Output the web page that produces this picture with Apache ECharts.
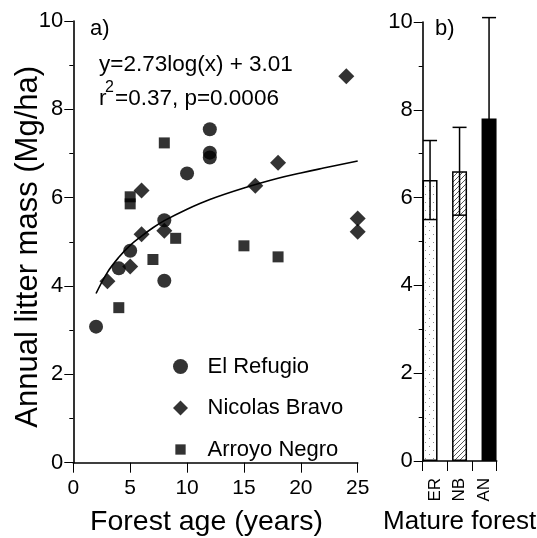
<!DOCTYPE html>
<html><head><meta charset="utf-8">
<script src="https://cdn.jsdelivr.net/npm/echarts@6/dist/echarts.min.js"></script>
<style>html,body{margin:0;padding:0;background:#fff}#c{width:537px;height:538px}</style>
</head><body><div id="c"></div>
<script>
// ---- data ----
const seriesNames = ['El Refugio', 'Nicolas Bravo', 'Arroyo Negro'];
const elRefugio = [[2,3.08],[4,4.40],[5,4.80],[8,4.12],[8,5.49],[10,6.55],[12,6.91],[12,7.02],[12,7.55]];
const nicolasBravo = [[3,4.11],[5,4.44],[6,5.17],[6,6.16],[8,5.25],[16,6.27],[18,6.79],[24,8.75],[25,5.53],[25,5.23]];
const arroyoNegro = [[4,3.51],[5,5.86],[5,6.02],[7,4.60],[8,7.24],[9,5.08],[15,4.91],[18,4.66]];
const fitCurve = [[2,3.83],[3,4.31],[4,4.65],[5,4.92],[6,5.13],[7,5.32],[8,5.48],[10,5.74],[12,5.96],[15,6.22],[18,6.44],[20,6.56],[22,6.67],[25,6.83]];
const matureCats = ['ER', 'NB', 'AN'];
const matureMean = [6.4, 6.6, 7.8];
const matureLow = [5.5, 5.6, 5.5];
const matureHigh = [7.3, 7.6, 10.1];
const eqLine1 = 'y=2.73log(x) + 3.01';
const eqLine2a = 'r';
const eqLine2sup = '2';
const eqLine2b = '=0.37, p=0.0006';

// ---- patterns ----
function makeDots(){const c=document.createElement('canvas');c.width=8;c.height=8;const g=c.getContext('2d');
  g.fillStyle='#fff';g.fillRect(0,0,8,8);g.fillStyle='#8c8c8c';g.fillRect(1,2,1,1);g.fillRect(5,6,1,1);return c;}
function makeHatch(){const c=document.createElement('canvas');c.width=5;c.height=5;const g=c.getContext('2d');
  g.fillStyle='#fff';g.fillRect(0,0,5,5);g.strokeStyle='#444';g.lineWidth=0.9;g.beginPath();
  g.moveTo(0,5);g.lineTo(5,0);g.moveTo(-1,1);g.lineTo(1,-1);g.moveTo(4,6);g.lineTo(6,4);g.stroke();return c;}
const fills = [{image: makeDots(), repeat:'repeat'}, {image: makeHatch(), repeat:'repeat'}, '#000'];

const FONT = 'Liberation Sans';
const axisLineStyle = {lineStyle:{color:'#000', width:1.6}};
const tickStyle = {lineStyle:{color:'#000', width:1}};

const chart = echarts.init(document.getElementById('c'), null, {renderer:'canvas'});
chart.setOption({
  animation:false,
  backgroundColor:'#fff',
  textStyle:{fontFamily:FONT, color:'#000'},
  grid:[
    {left:73.3, top:21, width:284.4, height:441.7, outerBoundsMode:'none', containLabel:false},
    {left:422.7, top:22, width:74, height:439, outerBoundsMode:'none', containLabel:false},
    {left:415.3, top:22, width:88.5, height:439, outerBoundsMode:'none', containLabel:false}
  ],
  xAxis:[
    {gridIndex:0, type:'value', min:0, max:25, interval:5,
     axisLine:axisLineStyle, axisTick:{show:true, length:10, lineStyle:tickStyle.lineStyle},
     axisLabel:{fontSize:21, margin:15, color:'#000', fontFamily:FONT},
     splitLine:{show:false},
     name:'Forest age (years)', nameLocation:'middle', nameGap:45, nameMoveOverlap:false,
     nameTextStyle:{fontSize:28.5, color:'#000', fontFamily:FONT, padding:[0,18,0,0]}},
    {gridIndex:1, type:'category', data:matureCats, boundaryGap:true,
     axisLine:axisLineStyle, axisTick:{show:true, length:10, lineStyle:tickStyle.lineStyle},
     axisLabel:{fontSize:17, rotate:90, margin:17, color:'#000', fontFamily:FONT},
     splitLine:{show:false},
     name:'Mature forest', nameLocation:'middle', nameGap:48, nameMoveOverlap:false,
     nameTextStyle:{fontSize:26, color:'#000', fontFamily:FONT}},
    {gridIndex:2, type:'category', data:matureCats, show:false}
  ],
  yAxis:[
    {gridIndex:0, type:'value', min:0, max:10, interval:2,
     axisLine:{show:true, lineStyle:{color:'#000', width:1.6}},
     axisTick:{show:true, length:9, lineStyle:tickStyle.lineStyle},
     minorTick:{show:true, splitNumber:2, length:4, lineStyle:{color:'#000', width:1}},
     axisLabel:{fontSize:22, margin:10, color:'#000', fontFamily:FONT},
     splitLine:{show:false},
     name:'Annual litter mass (Mg/ha)', nameLocation:'middle', nameGap:29, nameMoveOverlap:false,
     nameTextStyle:{fontSize:31, color:'#000', fontFamily:FONT, padding:[0,10,0,0]}},
    {gridIndex:1, type:'value', min:0, max:10, interval:2,
     axisLine:{show:true, lineStyle:{color:'#000', width:1.6}},
     axisTick:{show:true, length:9, lineStyle:tickStyle.lineStyle},
     minorTick:{show:true, splitNumber:2, length:4, lineStyle:{color:'#000', width:1}},
     axisLabel:{fontSize:22, margin:10, color:'#000', fontFamily:FONT},
     splitLine:{show:false}},
    {gridIndex:2, type:'value', min:0, max:10, show:false}
  ],
  legend:{
    orient:'vertical', left:173, top:355.5, padding:0,
    itemWidth:44, itemHeight:15, itemGap:19.5, symbolKeepAspect:true,
    textStyle:{fontSize:22, lineHeight:22, color:'#000', fontFamily:FONT},
    data:[
      {name:seriesNames[0], icon:'circle'},
      {name:seriesNames[1], icon:'path://M8,0L16,8L8,16L0,8Z'},
      {name:seriesNames[2], icon:'path://M0,0M2.5,2.5L13.5,2.5L13.5,13.5L2.5,13.5ZM16,16'}
    ],
    selectedMode:false
  },
  graphic:[
    {type:'text', left:90, top:18, style:{text:'a)', font:'22px "Liberation Sans"', fill:'#000'}},
    {type:'text', left:435, top:18, style:{text:'b)', font:'22px "Liberation Sans"', fill:'#000'}},
    {type:'text', left:99, top:53, style:{text:eqLine1, font:'22.5px "Liberation Sans"', fill:'#000'}},
    {type:'text', left:99, top:87, style:{text:eqLine2a, font:'22.5px "Liberation Sans"', fill:'#000'}},
    {type:'text', left:105, top:80, style:{text:eqLine2sup, font:'16px "Liberation Sans"', fill:'#000'}},
    {type:'text', left:115, top:87, style:{text:eqLine2b, font:'22.5px "Liberation Sans"', fill:'#000'}}
  ],
  series:[
    {name:seriesNames[0], type:'scatter', xAxisIndex:0, yAxisIndex:0, symbol:'circle', symbolSize:14,
     itemStyle:{color:'#000'}, data:elRefugio, z:3},
    {name:seriesNames[1], type:'scatter', xAxisIndex:0, yAxisIndex:0, symbol:'diamond', symbolSize:[16,16],
     itemStyle:{color:'#000'}, data:nicolasBravo, z:3},
    {name:seriesNames[2], type:'scatter', xAxisIndex:0, yAxisIndex:0, symbol:'rect', symbolSize:11,
     itemStyle:{color:'#000'}, data:arroyoNegro, z:3},
    {name:'fit', type:'line', xAxisIndex:0, yAxisIndex:0, data:fitCurve, smooth:0.4, showSymbol:false,
     lineStyle:{color:'#000', width:1.6}, z:2},
    {name:'mature', type:'bar', xAxisIndex:2, yAxisIndex:2, barWidth:15,
     data:matureMean.map((v,i)=>({value:v, itemStyle:{color:fills[i]}})),
     itemStyle:{borderColor:'#000', borderWidth:1.5}, z:2},
    {name:'err', type:'custom', xAxisIndex:2, yAxisIndex:2, z:4,
     data:matureCats.map((c,i)=>[i, matureLow[i], matureHigh[i]]),
     renderItem:function(params, api){
       const lo = api.coord([api.value(0), api.value(1)]);
       const hi = api.coord([api.value(0), api.value(2)]);
       const hw = 7;
       const st = {stroke:'#000', lineWidth:1.5};
       return {type:'group', children:[
         {type:'line', shape:{x1:lo[0], y1:lo[1], x2:hi[0], y2:hi[1]}, style:st},
         {type:'line', shape:{x1:hi[0]-hw, y1:hi[1], x2:hi[0]+hw, y2:hi[1]}, style:st},
         {type:'line', shape:{x1:lo[0]-hw, y1:lo[1], x2:lo[0]+hw, y2:lo[1]}, style:st}
       ]};
     }}
  ]
});
</script></body></html>
